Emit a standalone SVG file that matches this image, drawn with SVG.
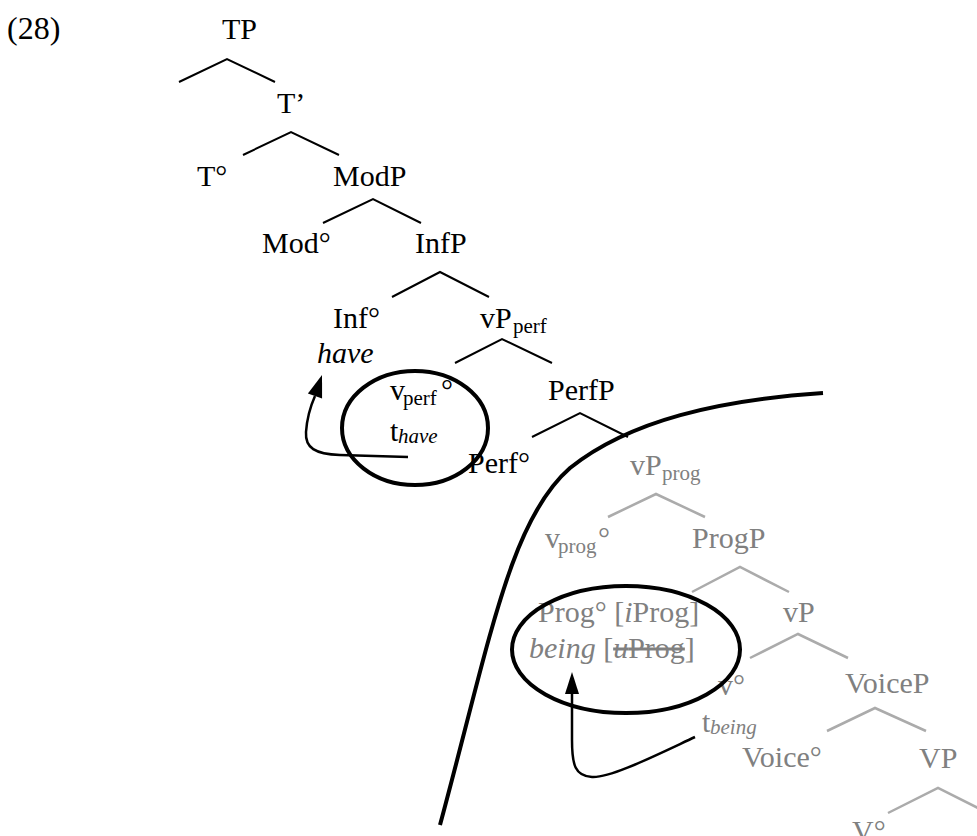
<svg xmlns="http://www.w3.org/2000/svg" width="977" height="836" viewBox="0 0 977 836">
<style>
text{font-family:"Liberation Serif","Times New Roman",serif;font-size:30px;fill:#000}
.g text,text.g{fill:#808080}
.sub{font-size:21px}
.it{font-style:italic}
.br{fill:none;stroke:#000;stroke-width:2}
.brg{fill:none;stroke:#ababab;stroke-width:2.5}
.thick{fill:none;stroke:#000;stroke-width:4}
.arr{fill:none;stroke:#000;stroke-width:2.5}
.strike{text-decoration:line-through}
</style>
<rect width="977" height="836" fill="#fff"/>
<text id="label" x="7" y="39" style="font-size:32px">(28)</text>
<g id="n-TP"><text x="222" y="39">TP</text></g>
<g id="n-Tbar"><text x="277" y="113">T’</text></g>
<g id="n-T0"><text x="197" y="186">T°</text></g>
<g id="n-ModP"><text x="333" y="186">ModP</text></g>
<g id="n-Mod0"><text x="262" y="253">Mod°</text></g>
<g id="n-InfP"><text x="415" y="253">InfP</text></g>
<g id="n-Inf0"><text x="333" y="328">Inf°</text><text class="it" x="317" y="363">have</text></g>
<g id="n-vPperf"><text x="480" y="328">vP<tspan class="sub" x="513" y="333">perf</tspan></text></g>
<g id="n-vperf0"><text x="390" y="400">v<tspan class="sub" x="403" y="405">perf</tspan><tspan x="441" y="400">°</tspan></text><text x="390" y="441">t<tspan class="sub it" x="398" y="443">have</tspan></text></g>
<g id="n-PerfP"><text x="548" y="400">PerfP</text></g>
<g id="n-Perf0"><text x="468" y="473">Perf°</text></g>
<g class="g">
<g id="n-vPprog"><text x="630" y="475">vP<tspan class="sub" x="662" y="480">prog</tspan></text></g>
<g id="n-vprog0"><text x="545" y="548">v<tspan class="sub" x="558" y="553">prog</tspan><tspan x="598" y="548">°</tspan></text></g>
<g id="n-ProgP"><text x="692" y="548">ProgP</text></g>
<g id="n-Prog0"><text x="538" y="622">Prog° [<tspan class="it">i</tspan>Prog]</text><text x="529" y="658"><tspan class="it">being</tspan> [<tspan class="it strike">u</tspan><tspan class="strike">Prog</tspan>]</text></g>
<g id="n-vP"><text x="783" y="622">vP</text></g>
<g id="n-v0"><text x="718" y="695">v°</text><text x="702" y="732">t<tspan class="sub it" x="710" y="734">being</tspan></text></g>
<g id="n-VoiceP"><text x="845" y="693">VoiceP</text></g>
<g id="n-Voice0"><text x="742" y="767">Voice°</text></g>
<g id="n-VP"><text x="919" y="768">VP</text></g>
<g id="n-V0"><text x="852" y="841">V°</text></g>
</g>
<g id="connectors">
<polyline class="br" points="179,82 227,59 275,82"/>
<polyline class="br" points="243,155 291,132 339,155"/>
<polyline class="br" points="323,223 373,199 421,223"/>
<polyline class="br" points="392,297 440,272 489,297"/>
<polyline class="br" points="455,363 502,339 552,363"/>
<polyline class="br" points="532,437 580,413 628,437"/>
<polyline class="brg" points="608,517 656,494 705,517"/>
<polyline class="brg" points="692,592 740,567 789,592"/>
<polyline class="brg" points="750,658 798,634 848,658"/>
<polyline class="brg" points="827,731 875,708 926,731"/>
<polyline class="brg" points="888,813 938,788 988,813"/>
<path class="arr" d="M408,457 L340,455 C315,454 305,448 306,432 C307,418 311,405 315,396"/>
<polygon points="322,375 307.9,393.6 322.1,398.4" fill="#000"/>
<path class="arr" d="M695,737 C650,758 610,778 592,777 C575,776 572,765 572,740 L572,692"/>
<polygon points="572,672 565,694 579,694" fill="#000"/>
</g>
<g id="annotations">
<ellipse class="thick" cx="415" cy="428" rx="73" ry="57"/>
<ellipse class="thick" cx="626" cy="649.5" rx="114" ry="63.5"/>
<path class="thick" d="M440,825 C490,640 510,520 570,468 C630,420 720,400 823,393"/>
</g>
</svg>
